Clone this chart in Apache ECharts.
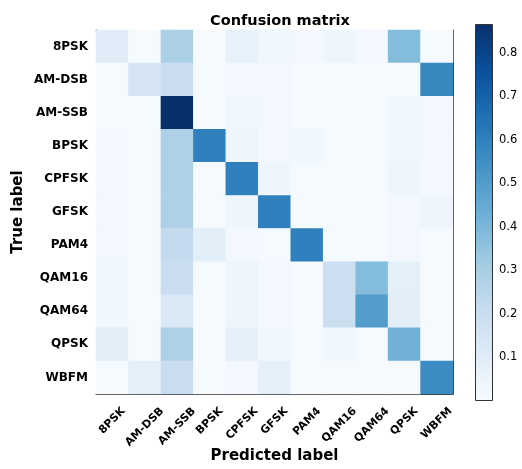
<!DOCTYPE html>
<html>
<head>
<meta charset="utf-8">
<script src="https://cdn.jsdelivr.net/npm/echarts@6/dist/echarts.min.js"></script>
<style>
  html, body { margin: 0; padding: 0; background: #fff; }
  #app { width: 522px; height: 469px; }
</style>
</head>
<body>
<div id="app"></div>
<script>
// class names, same order on both axes
const labels = ["8PSK", "AM-DSB", "AM-SSB", "BPSK", "CPFSK", "GFSK", "PAM4", "QAM16", "QAM64", "QPSK", "WBFM"];

// one row per true label
const row8PSK  = [0.10, 0.01, 0.29, 0.01, 0.07, 0.03, 0.02, 0.04, 0.02, 0.38, 0.01];
const rowAMDSB = [0.01, 0.15, 0.20, 0.01, 0.02, 0.02, 0.01, 0.01, 0.01, 0.01, 0.57];
const rowAMSSB = [0.01, 0.01, 0.87, 0.01, 0.03, 0.02, 0.01, 0.01, 0.01, 0.03, 0.02];
const rowBPSK  = [0.02, 0.01, 0.28, 0.60, 0.04, 0.02, 0.03, 0.01, 0.01, 0.03, 0.02];
const rowCPFSK = [0.02, 0.01, 0.28, 0.01, 0.60, 0.04, 0.01, 0.01, 0.01, 0.04, 0.02];
const rowGFSK  = [0.02, 0.01, 0.28, 0.01, 0.04, 0.60, 0.01, 0.01, 0.01, 0.02, 0.04];
const rowPAM4  = [0.02, 0.01, 0.22, 0.09, 0.02, 0.01, 0.60, 0.01, 0.01, 0.02, 0.01];
const rowQAM16 = [0.03, 0.01, 0.20, 0.01, 0.04, 0.02, 0.01, 0.19, 0.38, 0.08, 0.01];
const rowQAM64 = [0.03, 0.01, 0.12, 0.01, 0.04, 0.02, 0.01, 0.19, 0.50, 0.09, 0.01];
const rowQPSK  = [0.09, 0.01, 0.28, 0.01, 0.08, 0.03, 0.01, 0.03, 0.01, 0.42, 0.01];
const rowWBFM  = [0.01, 0.08, 0.20, 0.01, 0.02, 0.08, 0.01, 0.01, 0.01, 0.01, 0.56];

const rows = [row8PSK, rowAMDSB, rowAMSSB, rowBPSK, rowCPFSK, rowGFSK, rowPAM4, rowQAM16, rowQAM64, rowQPSK, rowWBFM];

// colorbar
const cbarMax = 0.866;
const cbarTicks = [0.1, 0.2, 0.3, 0.4, 0.5, 0.6, 0.7, 0.8];

// matplotlib "Blues"
const blues = ["#f7fbff", "#deebf7", "#c6dbef", "#9ecae1", "#6baed6", "#4292c6", "#2171b5", "#08519c", "#08306b"];

const cells = [];
rows.forEach((r, i) => r.forEach((v, j) => cells.push([j, i, v])));

const font = "DejaVu Sans";
const xFontSize = 11;

// matplotlib centres the rotated label box under the tick (ha='center'),
// so push every label straight down by half its rotated box:
// right padding moves it back along the text, lineHeight moves it "down" in text frame
const ctx = document.createElement("canvas").getContext("2d");
ctx.font = "bold " + xFontSize + "px '" + font + "'";
const xMargin = 6;
const xPad = 11;
const xLabelData = labels.map((name) => {
  const w = ctx.measureText(name).width;
  const box = (w + xFontSize * 1.15) * Math.SQRT1_2;
  const d = xPad + box / 2 - xMargin;
  const a = 2 * d * Math.SQRT1_2;
  return {
    value: name,
    textStyle: { align: "center", verticalAlign: "top", lineHeight: a, padding: [0, a, 0, 0] }
  };
});

const myChart = echarts.init(document.getElementById("app"));

myChart.setOption({
  animation: false,
  backgroundColor: "#fff",
  textStyle: { fontFamily: font },
  title: {
    text: "Confusion matrix",
    left: 275, top: 9, textAlign: "center",
    textStyle: { fontFamily: font, fontSize: 14.5, fontWeight: "bold", color: "#000" }
  },
  grid: [
    { left: 96, top: 30, width: 357, height: 364, outerBoundsMode: "none", containLabel: false },
    { left: 475, top: 24, width: 18, height: 377, outerBoundsMode: "none", containLabel: false }
  ],
  xAxis: [
    {
      gridIndex: 0, type: "category", data: xLabelData,
      name: "Predicted label", nameLocation: "middle", nameGap: 55, nameMoveOverlap: false,
      nameTextStyle: { fontFamily: font, fontSize: 15, fontWeight: "bold", color: "#000" },
      axisLine: { lineStyle: { color: "#333" } },
      axisTick: { alignWithLabel: true, length: 4, lineStyle: { color: "#333" } },
      axisLabel: {
        rotate: 45, interval: 0, margin: xMargin, align: "center", verticalAlign: "top",
        fontFamily: font, fontSize: xFontSize, fontWeight: "bold", color: "#000"
      },
      splitLine: { show: false }
    },
    {
      gridIndex: 0, type: "category", data: labels, position: "top",
      axisLine: { lineStyle: { color: "#333" } },
      axisTick: { show: false }, axisLabel: { show: false }
    },
    {
      gridIndex: 1, type: "category", data: [""],
      axisLine: { show: false }, axisTick: { show: false }, axisLabel: { show: false }
    }
  ],
  yAxis: [
    {
      gridIndex: 0, type: "category", data: labels, inverse: true,
      name: "True label", nameLocation: "middle", nameGap: 70, nameMoveOverlap: false,
      nameTextStyle: { fontFamily: font, fontSize: 15, fontWeight: "bold", color: "#000" },
      axisLine: { lineStyle: { color: "#333" } },
      axisTick: { alignWithLabel: true, length: 4, lineStyle: { color: "#333" } },
      axisLabel: { interval: 0, margin: 8, fontFamily: font, fontSize: 12, fontWeight: "bold", color: "#000" },
      splitLine: { show: false }
    },
    {
      gridIndex: 0, type: "category", data: labels, inverse: true, position: "right",
      axisLine: { lineStyle: { color: "#333" } },
      axisTick: { show: false }, axisLabel: { show: false }
    },
    {
      gridIndex: 1, type: "value", position: "right", min: 0, max: cbarMax,
      axisLine: { show: false },
      splitLine: { show: false },
      axisTick: { customValues: cbarTicks, length: 4, lineStyle: { color: "#333" } },
      axisLabel: {
        customValues: cbarTicks, margin: 6,
        formatter: (v) => v.toFixed(1),
        fontFamily: font, fontSize: 11.5, color: "#000"
      }
    }
  ],
  visualMap: {
    show: false, seriesIndex: 0, min: 0, max: cbarMax,
    inRange: { color: blues }
  },
  series: [
    {
      type: "heatmap", xAxisIndex: 0, yAxisIndex: 0, data: cells,
      itemStyle: { borderWidth: 0 }
    },
    {
      type: "bar", xAxisIndex: 2, yAxisIndex: 2, data: [cbarMax], barWidth: "100%",
      itemStyle: {
        borderColor: "#333", borderWidth: 1,
        color: new echarts.graphic.LinearGradient(0, 1, 0, 0,
          blues.map((c, i) => ({ offset: i / (blues.length - 1), color: c })))
      }
    }
  ]
});
</script>
</body>
</html>
